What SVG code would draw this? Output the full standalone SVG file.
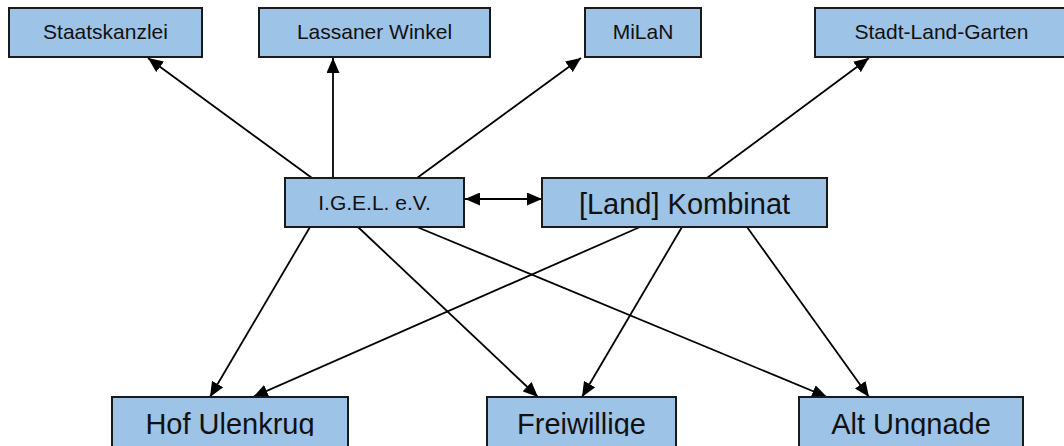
<svg xmlns="http://www.w3.org/2000/svg" width="1064" height="446" viewBox="0 0 1064 446">
<style>
.box{fill:#9dc3e6;stroke:#1a1a1a;stroke-width:2}
.t{font-family:"Liberation Sans",Arial,sans-serif;fill:#111;text-anchor:middle}
.s{font-size:21px}
.l{font-size:29px}
.c{stroke:#000;stroke-width:1.8;fill:none;marker-end:url(#ah)}
</style>
<defs>
<marker id="ah" markerUnits="userSpaceOnUse" markerWidth="15" markerHeight="13" refX="15" refY="6.5" orient="auto-start-reverse" viewBox="0 0 15 13">
<path d="M0,0 L15,6.5 L0,13 z" fill="#000"/>
</marker>
<clipPath id="clipB"><rect x="0" y="0" width="1064" height="436"/></clipPath>
</defs>
<rect width="1064" height="446" fill="#fff"/>
<g id="connectors">
<line class="c" x1="312" y1="178" x2="148" y2="58"/>
<line class="c" x1="333" y1="178" x2="333" y2="58"/>
<line class="c" x1="417" y1="178" x2="581" y2="58"/>
<line class="c" x1="707" y1="178" x2="869" y2="58"/>
<line class="c" x1="465" y1="199" x2="542" y2="199" style="marker-start:url(#ah)"/>
<line class="c" x1="310" y1="227" x2="210" y2="397"/>
<line class="c" x1="358" y1="227" x2="538" y2="397"/>
<line class="c" x1="417" y1="227" x2="827" y2="397"/>
<line class="c" x1="640" y1="227" x2="253" y2="397"/>
<line class="c" x1="682" y1="227" x2="582" y2="397"/>
<line class="c" x1="747" y1="227" x2="869" y2="397"/>
</g>
<g id="staatskanzlei"><rect class="box" x="9" y="8" width="193" height="49"/><text class="t s" x="105.5" y="38.5">Staatskanzlei</text></g>
<g id="lassaner-winkel"><rect class="box" x="259" y="8" width="231" height="49"/><text class="t s" x="374.5" y="38.5">Lassaner Winkel</text></g>
<g id="milan"><rect class="box" x="585" y="8" width="116" height="49"/><text class="t s" x="643" y="38.5">MiLaN</text></g>
<g id="stadt-land-garten"><rect class="box" x="815" y="8" width="253" height="49"/><text class="t s" x="941.5" y="38.5">Stadt-Land-Garten</text></g>
<g id="igel"><rect class="box" x="285" y="178" width="179" height="49"/><text class="t s" x="374.5" y="210">I.G.E.L. e.V.</text></g>
<g id="land-kombinat"><rect class="box" x="542" y="178" width="285" height="49"/><text class="t l" x="684.5" y="213.5">[Land] Kombinat</text></g>
<g id="hof-ulenkrug"><rect class="box" x="112" y="397" width="236" height="60"/><text class="t l" x="230" y="434" clip-path="url(#clipB)">Hof Ulenkrug</text></g>
<g id="freiwillige"><rect class="box" x="487" y="397" width="189" height="60"/><text class="t l" x="581.5" y="434" clip-path="url(#clipB)">Freiwillige</text></g>
<g id="alt-ungnade"><rect class="box" x="799" y="397" width="224" height="60"/><text class="t l" x="911" y="434" clip-path="url(#clipB)">Alt Ungnade</text></g>
</svg>
